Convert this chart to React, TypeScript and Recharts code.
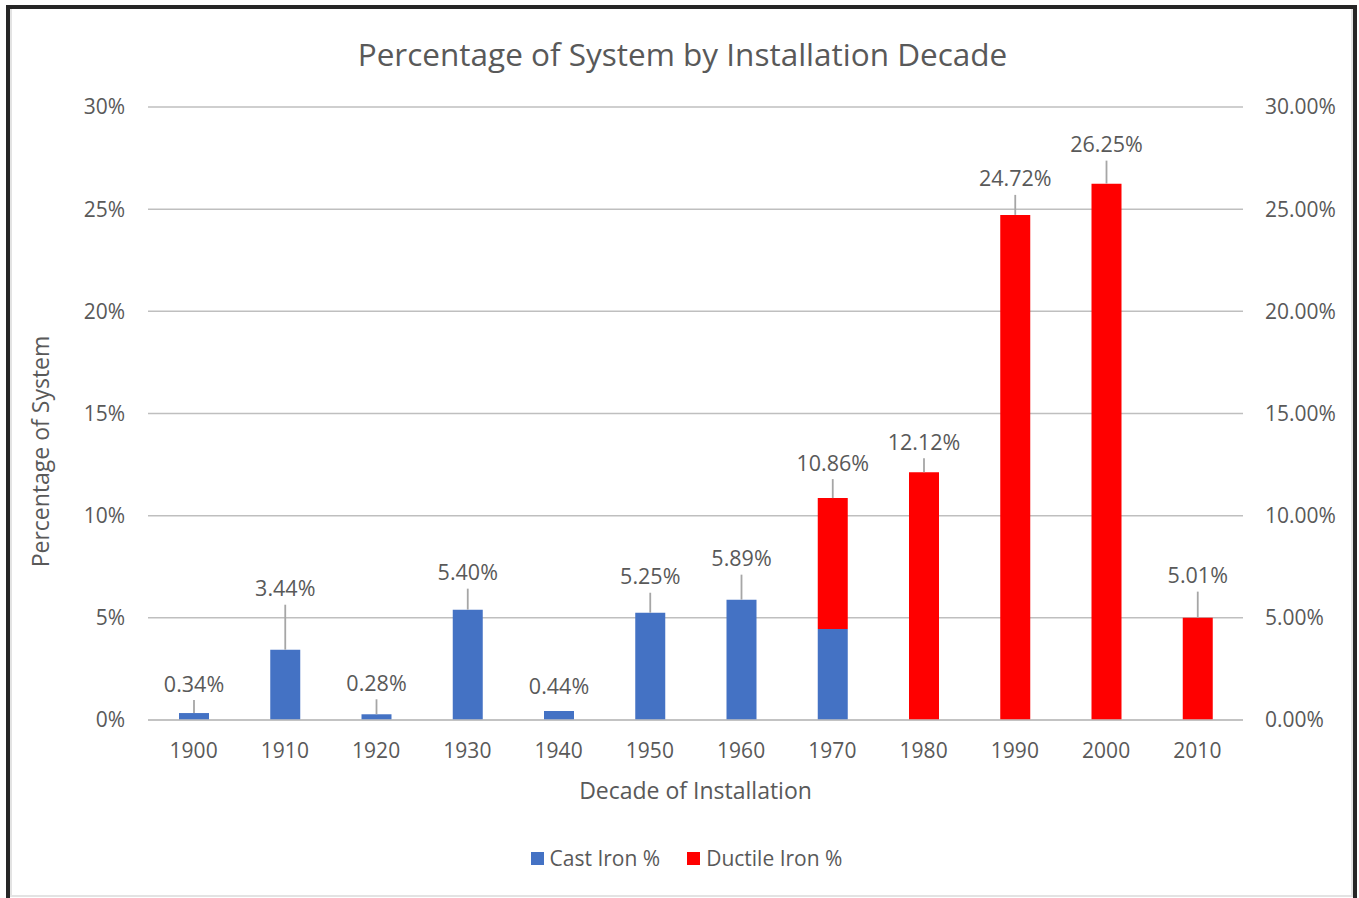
import React from 'react';
import { ComposedChart, Bar, Line, XAxis, YAxis, CartesianGrid, Legend, LabelList } from 'recharts';

const decades = ['1900', '1910', '1920', '1930', '1940', '1950', '1960', '1970', '1980', '1990', '2000', '2010'];
const castIron = [0.34, 3.44, 0.28, 5.4, 0.44, 5.25, 5.89, 4.45, null, null, null, null];
const ductileIron = [null, null, null, null, null, null, null, 6.41, 12.12, 24.72, 26.25, 5.01];
const totals = [0.34, 3.44, 0.28, 5.4, 0.44, 5.25, 5.89, 10.86, 12.12, 24.72, 26.25, 5.01];
const yTicks = [0, 5, 10, 15, 20, 25, 30];

// how far above the bar top each data label sits (px), as placed in the original
const labelLift = [30, 62, 32, 38, 26, 37, 42, 36, 31, 37, 40, 43];

const data = decades.map((d, i) => ({
  decade: d,
  cast: castIron[i],
  ductile: ductileIron[i],
}));

const FONT = '"Open Sans", "Noto Sans", sans-serif';
const TEXT = '#595959';
const GRID = '#bfbfbf';

const makeLabel = (series: 'cast' | 'ductile') => (props: any) => {
  const { x, y, width, value } = props;
  const index = decades.indexOf(String(value));
  if (index < 0) return null;
  if (series === 'cast' && ductileIron[index] != null) return null;
  if (x == null || y == null) return null;
  const cx = Number(x) + Number(width) / 2;
  const lift = labelLift[index];
  const ly = Number(y) - lift;
  return (
    <g>
      {lift >= 28 && (
        <line x1={cx} x2={cx} y1={ly + 17} y2={Number(y)} stroke="#a6a6a6" strokeWidth={1.8} />
      )}
      <text x={cx} y={ly} textAnchor="middle" dominantBaseline="central" fill={TEXT} fontSize={21.5} fontFamily={FONT}>
        {totals[index].toFixed(2)}%
      </text>
    </g>
  );
};

const LegendContent = () => (
  <div style={{ display: 'flex', justifyContent: 'center', alignItems: 'center', height: 30, fontFamily: FONT, fontSize: 21, color: TEXT, paddingLeft: 14 }}>
    <span style={{ display: 'inline-block', width: 13, height: 13, background: '#4472C4', marginRight: 6 }} />
    <span style={{ marginRight: 27 }}>Cast Iron %</span>
    <span style={{ display: 'inline-block', width: 13, height: 13, background: '#FF0000', marginRight: 6 }} />
    <span>Ductile Iron %</span>
  </div>
);

const App = () => {
  return (
    <div style={{ position: 'absolute', left: 0, top: 0, width: 1359, height: 898, background: '#fff', overflow: 'hidden' }}>
      <div style={{ position: 'absolute', left: 6, top: 5, width: 1351, height: 900, borderLeft: '4px solid #262626', borderTop: '4px solid #262626', borderRight: '4px solid #262626', boxSizing: 'border-box' }} />
      <div style={{ position: 'absolute', left: 10, top: 9, width: 1343, height: 888, border: '2px solid #e3e3e3', borderTop: 'none', boxSizing: 'border-box' }} />
      <div style={{ position: 'absolute', left: 0, top: 32, width: 1365, textAlign: 'center', fontFamily: FONT, fontSize: 31.5, color: TEXT }}>
        Percentage of System by Installation Decade
      </div>
      <div style={{ position: 'absolute', left: 0, top: 0 }}>
        <ComposedChart
          width={1359}
          height={898}
          data={data}
          margin={{ top: 107, right: 36, left: 88, bottom: 25 }}
          barSize={30}
        >
          <CartesianGrid yAxisId="left" vertical={false} stroke={GRID} strokeWidth={1.5} />
          <XAxis
            dataKey="decade"
            height={123}
            tickLine={false}
            tickSize={0}
            tickMargin={23}
            axisLine={{ stroke: GRID, strokeWidth: 1.5 }}
            tick={{ fill: TEXT, fontSize: 21, fontFamily: FONT }}
            label={{
              content: (p: any) => {
                const vb = p.viewBox;
                return (
                  <text x={vb.x + vb.width / 2} y={vb.y + 70} textAnchor="middle" dominantBaseline="central" fill={TEXT} fontSize={23} fontFamily={FONT}>
                    Decade of Installation
                  </text>
                );
              },
            }}
          />
          <YAxis
            yAxisId="left"
            width={60}
            domain={[0, 30]}
            ticks={yTicks}
            tickLine={false}
            axisLine={false}
            tickSize={0}
            tickMargin={23}
            tickFormatter={(v: number) => `${v}%`}
            tick={{ fill: TEXT, fontSize: 21, fontFamily: FONT }}
            label={{
              content: (p: any) => {
                const vb = p.viewBox;
                const cy = vb.y + vb.height / 2 + 38;
                return (
                  <text x={40} y={cy} transform={`rotate(-90, 40, ${cy})`} textAnchor="middle" dominantBaseline="central" fill={TEXT} fontSize={23} fontFamily={FONT}>
                    Percentage of System
                  </text>
                );
              },
            }}
          />
          <YAxis
            yAxisId="right"
            orientation="right"
            width={80}
            domain={[0, 30]}
            ticks={yTicks}
            tickLine={false}
            axisLine={false}
            tickSize={0}
            tickMargin={22}
            tickFormatter={(v: number) => `${v.toFixed(2)}%`}
            tick={{ fill: TEXT, fontSize: 21, fontFamily: FONT }}
          />
          <Legend verticalAlign="bottom" wrapperStyle={{ left: 0, width: 1359 }} content={<LegendContent />} />
          <Bar yAxisId="left" dataKey="cast" name="Cast Iron %" stackId="a" fill="#4472C4" isAnimationActive={false}>
            <LabelList dataKey="decade" content={makeLabel('cast')} />
          </Bar>
          <Bar yAxisId="left" dataKey="ductile" name="Ductile Iron %" stackId="a" fill="#FF0000" isAnimationActive={false}>
            <LabelList dataKey="decade" content={makeLabel('ductile')} />
          </Bar>
          <Line yAxisId="right" dataKey="cast" stroke="none" dot={false} activeDot={false} legendType="none" isAnimationActive={false} />
        </ComposedChart>
      </div>
    </div>
  );
};

export default App;
